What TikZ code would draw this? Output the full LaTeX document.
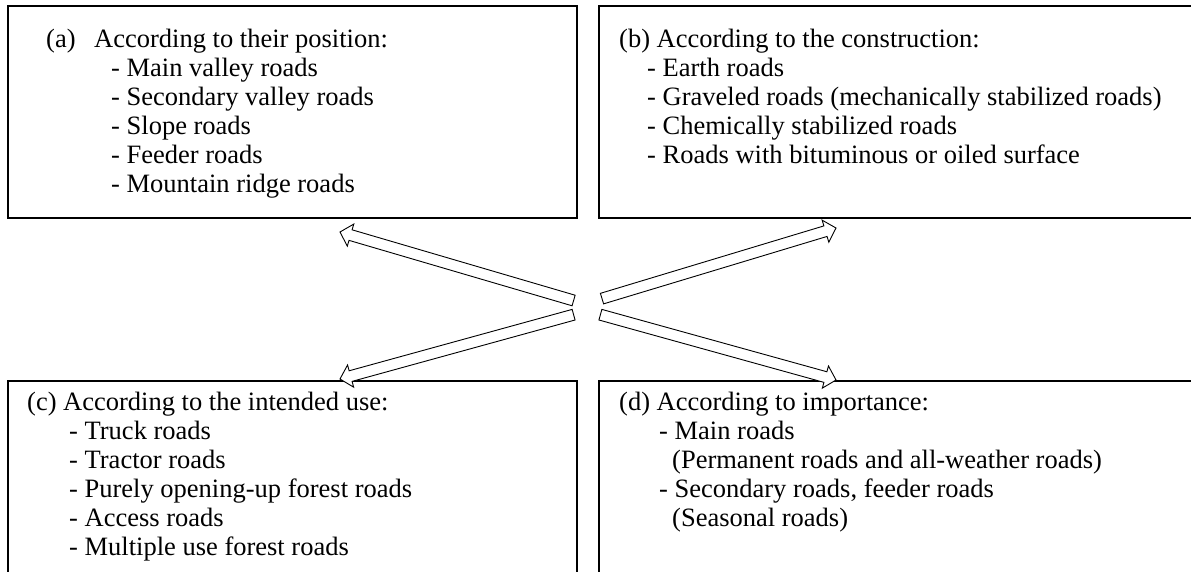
\documentclass[tikz,border=0pt]{standalone}
\usepackage{fontspec}
\setmainfont{Liberation Serif}
\usetikzlibrary{calc}
\newcommand{\hollowarrow}[2]{%
  \path ($(#2)!11pt!(#1)$) coordinate (hb);
  \draw[hollow] ($(#1)!5.5pt!90:(#2)$) -- ($(hb)!5.5pt!-90:(#1)$) -- ($(hb)!11.5pt!-90:(#1)$) -- (#2)
     -- ($(hb)!11.5pt!90:(#1)$) -- ($(hb)!5.5pt!90:(#1)$) -- ($(#1)!5.5pt!-90:(#2)$) -- cycle;}
\begin{document}
\begin{tikzpicture}[x=1pt,y=-1pt,
  box/.style={draw, line width=1.6pt, inner sep=0pt, anchor=north west},
  txt/.style={anchor=base west, inner sep=0pt, font=\fontsize{26.5}{29}\selectfont},
  hollow/.style={draw, line width=0.9pt, fill=white, line join=miter}]
\useasboundingbox (0,0) rectangle (1191,572);
\begin{scope}
\clip (0,0) rectangle (1191,572);
\node[box, minimum width=569pt, minimum height=212pt] (a) at (7,5) {};
\node[box, minimum width=620pt, minimum height=212pt] (b) at (598,5) {};
\node[box, minimum width=569pt, minimum height=230pt] (c) at (7,380) {};
\node[box, minimum width=620pt, minimum height=230pt] (d) at (598,380) {};
\end{scope}

\node[txt] (ta) at (46,48) {\begin{tabular}[t]{@{}l@{}}
\makebox[48pt][l]{(a)}According to their position:\\
\hspace*{65pt}- Main valley roads\\
\hspace*{65pt}- Secondary valley roads\\
\hspace*{65pt}- Slope roads\\
\hspace*{65pt}- Feeder roads\\
\hspace*{65pt}- Mountain ridge roads
\end{tabular}};

\node[txt] (tb) at (619,48) {\begin{tabular}[t]{@{}l@{}}
(b) According to the construction:\\
\hspace*{28pt}- Earth roads\\
\hspace*{28pt}- Graveled roads (mechanically stabilized roads)\\
\hspace*{28pt}- Chemically stabilized roads\\
\hspace*{28pt}- Roads with bituminous or oiled surface
\end{tabular}};

\node[txt] (tc) at (27,410) {\begin{tabular}[t]{@{}l@{}}
(c) According to the intended use:\\
\hspace*{42pt}- Truck roads\\
\hspace*{42pt}- Tractor roads\\
\hspace*{42pt}- Purely opening-up forest roads\\
\hspace*{42pt}- Access roads\\
\hspace*{42pt}- Multiple use forest roads
\end{tabular}};

\node[txt] (td) at (619,410) {\begin{tabular}[t]{@{}l@{}}
(d) According to importance:\\
\hspace*{40pt}- Main roads\\
\hspace*{53pt}(Permanent roads and all-weather roads)\\
\hspace*{40pt}- Secondary roads, feeder roads\\
\hspace*{53pt}(Seasonal roads)
\end{tabular}};

\coordinate (ul0) at (573.6,300.5); \coordinate (ul1) at (340,232);
\coordinate (ll0) at (573.6,314.7); \coordinate (ll1) at (340,379);
\coordinate (ur0) at (602,298.6);   \coordinate (ur1) at (836,228);
\coordinate (lr0) at (600.4,314.7); \coordinate (lr1) at (836,380);
\hollowarrow{ul0}{ul1}
\hollowarrow{ll0}{ll1}
\hollowarrow{ur0}{ur1}
\hollowarrow{lr0}{lr1}
\end{tikzpicture}
\end{document}
